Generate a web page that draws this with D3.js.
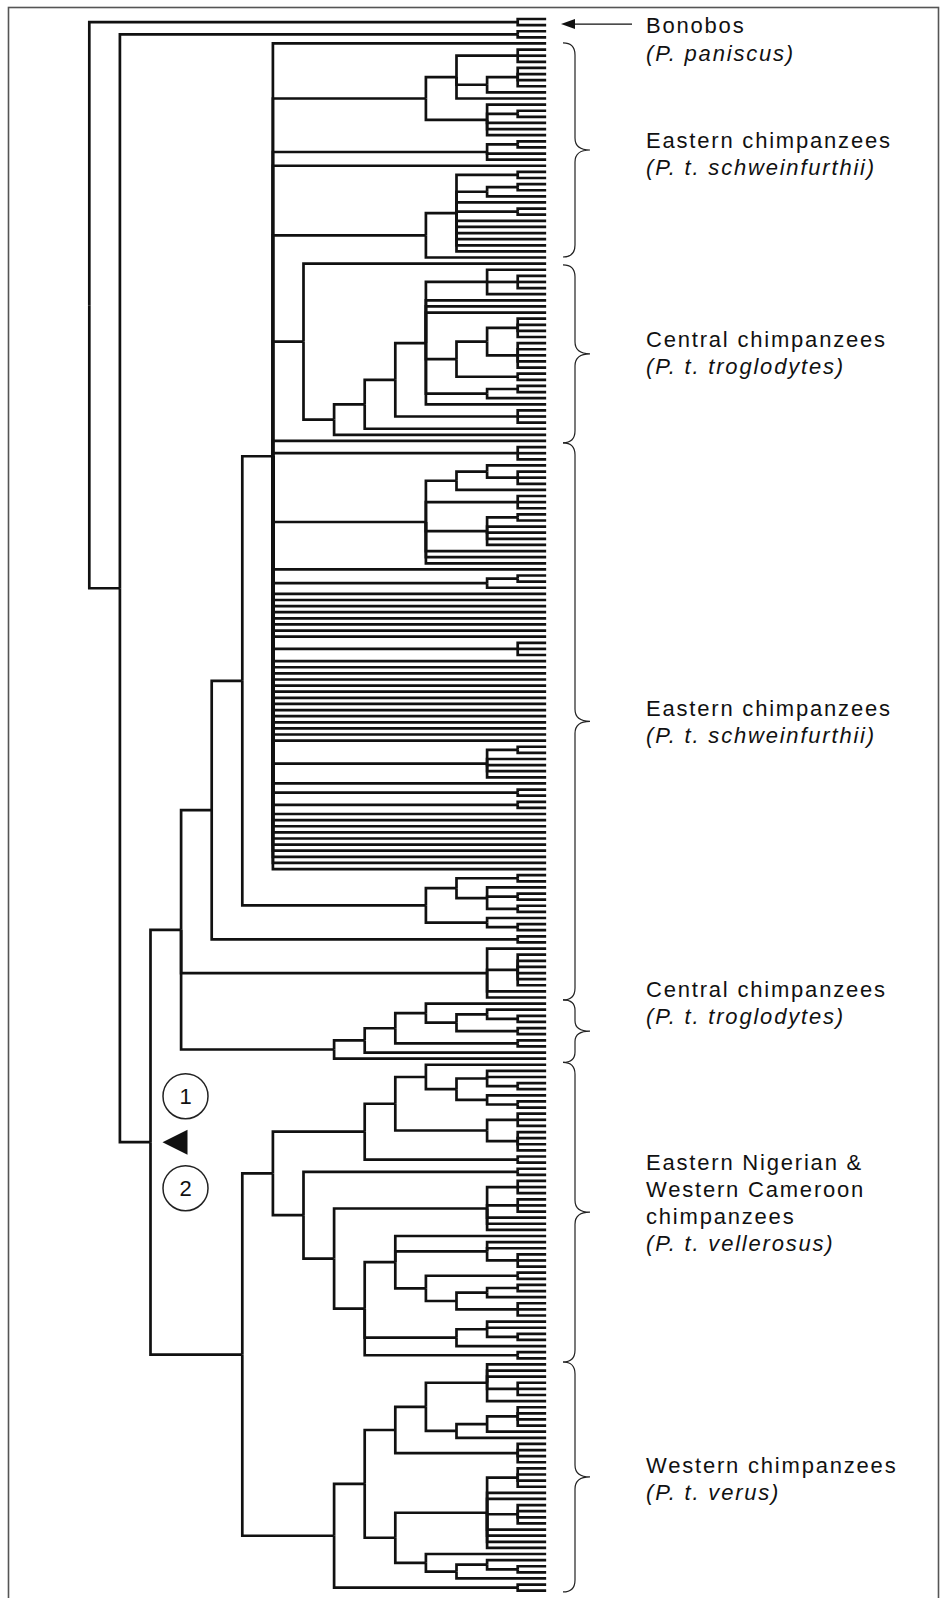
<!DOCTYPE html>
<html><head><meta charset="utf-8">
<script src="https://cdn.jsdelivr.net/npm/d3@7"></script>
<style>html,body{margin:0;padding:0;background:#fff;} svg{display:block;}</style>
</head><body>
<svg id="chart" width="940" height="1598"></svg>
<script>
// Cladogram data. "x" = one sample, "x*N" = N samples, "(...)k" = internal node drawn at level k
const bonoboA  = "(x,x)14";
const bonoboB  = "(x,x)14";
const eastern1 = ["x", "(((x,x,x)14,((x,x,x,x)14,x)13,x)12,(x,(x,x)14,x,x,x)13)11", "((x,x)14,x,x)13", "x",
                  "(((x,x)14,((x,x)14,x)13,x,(x,x)14,x*6)12,x)11"];
const central1 = "(x,(((((x,(x,x,x)14,x)13,x*3,(((x,x,x,x)14,(x*5)14)13,(x,x)14)12,((x,x)14,x)13,x)11,(x,x,x)14)10,x)9,x)8)7";
const eastern2 = ["x", "(x,x,x)14", "(((x,(x,x,x)14)13,x)12,(x,x,x)14,((x,x)14,x,x,x,x)13,x,x,x)11", "x",
                  "((x,x)14,x)13", "x*8", "(x,x,x)14", "x*14", "((x,x)14,x,x,x,x)13", "x", "(x,x)14", "(x,x)14", "x*10"];
const eastern2b = "(((x,x)14,(x,(x,x)14,(x,x)14)13)12,(x,(x,x)14)13)11";
const eastern2c = "(x,x)14";
const eastern2d = "(x,(x*6)14,x,x)13";
const central2  = "((((x,((x,(x,x)14)13,(x,x)14)12)11,(x,x)14)10,x)9,x)8";
const nigeria1  = "(((x,((x,x,(x,x)14)13,(x,(x,x)14)13)12)11,((x,x,x)14,(x,x,x,x)14)13)10,(x,x)14)9";
const nigeria2  = "((x,x)14,(((x,x,x)14,(x,x,x)14,x,x,x)13,((x,(x,x,(x,x,x)14)13,((x,x)14,(((x,x)14,x)13,(x,x,x)14)12)11)10,((x,x,(x,x)14)13,x)12,(x,x)14)9)8)7";
const western   = "(((((x,x,x,(x,x,x)14,x)13,(((x,x,x,x)14,x)13,x)12)11,(x,x,x,x)14)10,(((x,x,x,x)14,x,x,(x,x,x,x)14,x,x,x,x)13,(x,((x,(x,x)14)13,x)12)11)10)9,(x,x)14)8";

// Group annotations: leaf-index extents of the braces
const groupNames = ["Eastern chimpanzees", "Central chimpanzees", "Eastern chimpanzees", "Central chimpanzees",
                    "Eastern Nigerian &|Western Cameroon|chimpanzees", "Western chimpanzees"];
const groupSub   = ["(P. t. schweinfurthii)", "(P. t. troglodytes)", "(P. t. schweinfurthii)", "(P. t. troglodytes)",
                    "(P. t. vellerosus)", "(P. t. verus)"];
const groupFrom  = [3.92, 40.2, 69.3, 160.4, 170.6, 219.6];
const groupTo    = [38.92, 69.3, 160.4, 170.6, 219.6, 257.2];
const bonoboName = ["Bonobos", "(P. paniscus)"];
const markerLabels = ["1", "2"];

// label nudges (px) relative to the brace tip
const labelNudge = [-1, -6, -5, -34, -15, -3];

// ---- assemble tree ----
const topK6 = "(" + eastern1.join(",") + "," + central1 + "," + eastern2.join(",") + ")6";
const k5a = "(" + topK6 + "," + eastern2b + ")5";
const k4 = "(" + k5a + "," + eastern2c + ")4";
const k3 = "(" + k4 + "," + eastern2d + "," + central2 + ")3";
const k6b = "(" + nigeria1 + "," + nigeria2 + ")6";
const k5b = "(" + k6b + "," + western + ")5";
const k2 = "(" + k3 + "," + k5b + ")2";
const k1 = "(" + bonoboB + "," + k2 + ")1";
const treeString = "(" + bonoboA + "," + k1 + ")0";

function parseTree(str) {
  const s = str.replace(/\s+/g, "");
  let i = 0;
  function readNum() { let n = ""; while (i < s.length && /[0-9]/.test(s[i])) n += s[i++]; return n; }
  function items() {
    if (s[i] === "(") {
      i++;
      const kids = [];
      while (true) {
        kids.push(...items());
        if (s[i] === ",") { i++; continue; }
        if (s[i] === ")") { i++; break; }
        throw new Error("parse error at " + i);
      }
      return [{ level: +readNum(), children: kids }];
    }
    if (s[i] === "x") {
      i++;
      let n = 1;
      if (s[i] === "*") { i++; n = +readNum(); }
      return Array.from({ length: n }, () => ({ leaf: true }));
    }
    throw new Error("parse error at " + i);
  }
  return items()[0];
}

const root = d3.hierarchy(parseTree(treeString));
const leaves = root.leaves();
const LEAF_LEVEL = 14.93;

const x = d3.scaleLinear().domain([0, 14]).range([89.3, 517.7]);
const y = d3.scaleLinear().domain([0, leaves.length - 1]).range([19, 1590.7]);

leaves.forEach((d, i) => { d.idx = i; });
root.eachAfter(d => {
  if (d.children) {
    d.py = (d.children[0].py + d.children[d.children.length - 1].py) / 2;
    d.px = x(d.data.level);
  } else {
    d.py = y(d.idx);
    d.px = x(LEAF_LEVEL);
  }
});

const svg = d3.select("#chart");
const FONT = "Liberation Sans, Arial, Helvetica, sans-serif";

// frame
svg.append("rect").attr("x", 8.5).attr("y", 7.5).attr("width", 930).attr("height", 1600)
  .attr("fill", "none").attr("stroke", "#555").attr("stroke-width", 1.6);

// links
svg.append("g").selectAll("path").data(root.links()).join("path")
  .attr("d", l => `M${l.source.px},${l.source.py}V${l.target.py}H${l.target.px}`)
  .attr("fill", "none").attr("stroke", "#111").attr("stroke-width", 2.7);

// braces
const spineX = 575, tipX = 590, hookX = 563;
function brace(y1, y2) {
  const ym = (y1 + y2) / 2;
  const r = Math.min(12, (y2 - y1) / 6);
  return `M${hookX},${y1}Q${spineX},${y1} ${spineX},${y1 + r}V${ym - r}Q${spineX},${ym} ${tipX},${ym}` +
         `Q${spineX},${ym} ${spineX},${ym + r}V${y2 - r}Q${spineX},${y2} ${hookX},${y2}`;
}
const labelX = 646;
const gB = svg.append("g");
groupNames.forEach((nm, gi) => {
  const y1 = y(groupFrom[gi]), y2 = y(groupTo[gi]);
  gB.append("path").attr("d", brace(y1, y2)).attr("fill", "none").attr("stroke", "#222").attr("stroke-width", 1.2);
  const lines = nm.split("|");
  const tip = (y1 + y2) / 2;
  const n = lines.length + 1;
  const lh = 27;
  const first = tip + 13 - (n - 1) * lh / 2 + labelNudge[gi];
  lines.forEach((ln, li) => {
    gB.append("text").attr("x", labelX).attr("y", first + li * lh).text(ln).attr("font-style", "normal");
  });
  gB.append("text").attr("x", labelX).attr("y", first + lines.length * lh).text(groupSub[gi]).attr("font-style", "italic");
});
gB.selectAll("text").attr("font-family", FONT).attr("font-size", 22).attr("letter-spacing", 1.8).attr("fill", "#111");

// bonobo arrow + label
const bY = (leaves[0].py + leaves[1].py) / 2 + 2;
svg.append("line").attr("x1", 572).attr("x2", 632).attr("y1", bY).attr("y2", bY).attr("stroke", "#111").attr("stroke-width", 1.3);
svg.append("path").attr("d", `M561,${bY}L575,${bY - 5}L575,${bY + 5}Z`).attr("fill", "#111");
bonoboName.forEach((t, i) => {
  svg.append("text").attr("x", labelX).attr("y", 33 + i * 28).text(t)
    .attr("font-family", FONT).attr("font-size", 22).attr("letter-spacing", 1.8)
    .attr("font-style", i ? "italic" : "normal").attr("fill", "#111");
});

// marker at the node uniting all P. troglodytes
const mNode = root.descendants().find(d => d.data.level === 2);
const mx = mNode.px + 35, my = mNode.py;
svg.append("path").attr("d", `M${mNode.px + 12},${my}L${mNode.px + 37},${my - 12.5}L${mNode.px + 37},${my + 12.5}Z`).attr("fill", "#111");
markerLabels.forEach((t, i) => {
  const cy = my + (i ? 46 : -46);
  svg.append("circle").attr("cx", mx).attr("cy", cy).attr("r", 22.5).attr("fill", "#fff").attr("stroke", "#222").attr("stroke-width", 1.5);
  svg.append("text").attr("x", mx).attr("y", cy + 8).attr("text-anchor", "middle").text(t)
    .attr("font-family", FONT).attr("font-size", 22).attr("fill", "#111");
});
</script>
</body></html>
